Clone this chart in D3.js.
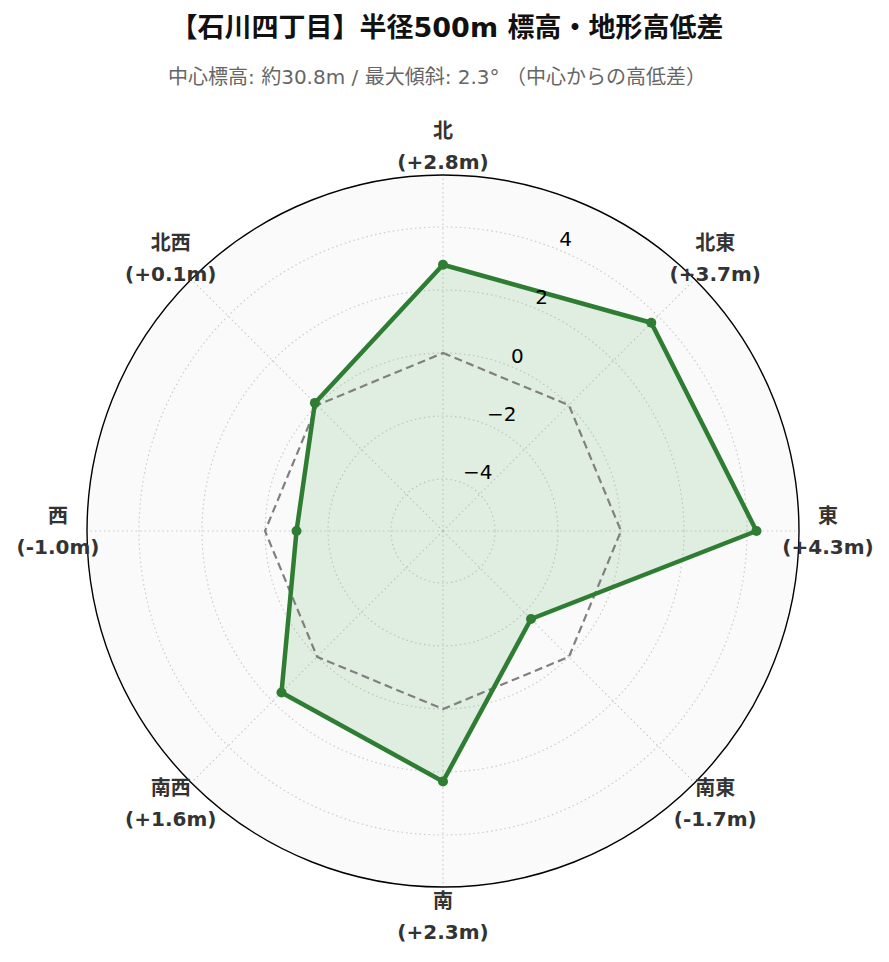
<!DOCTYPE html>
<html><head><meta charset="utf-8">
<script src="https://cdn.jsdelivr.net/npm/d3@7"></script>
<style>
body{margin:0;background:#fff;}
svg{display:block;}
</style></head>
<body>
<svg id="chart" width="889" height="962"></svg>
<script>
const title = "【石川四丁目】半径500m 標高・地形高低差";
const subtitle = "中心標高: 約30.8m / 最大傾斜: 2.3° （中心からの高低差）";
const directions = ["北", "北東", "東", "南東", "南", "南西", "西", "北西"];
const diffs = [2.8, 3.7, 4.3, -1.7, 2.3, 1.6, -1.0, 0.1];
const diffLabels = ["(+2.8m)", "(+3.7m)", "(+4.3m)", "(-1.7m)", "(+2.3m)", "(+1.6m)", "(-1.0m)", "(+0.1m)"];
const radialTicks = [-4, -2, 0, 2, 4];
const radialDomain = [-5.65, 5.65];

const svg = d3.select("#chart");
const cx = 443, cy = 531, R = 356;
const g = svg.append("g").attr("transform", `translate(${cx},${cy})`);
const LATIN = "'DejaVu Sans', 'Noto Sans CJK JP', sans-serif";

const r = d3.scaleLinear().domain(radialDomain).range([0, R]);
const angle = d3.scaleBand().domain(directions).range([0, 2 * Math.PI]).align(0).paddingInner(0).paddingOuter(0);
const ang = d => angle(d);
const pt = (a, rad) => [rad * Math.sin(a), -rad * Math.cos(a)];

// background
g.append("circle").attr("r", R).attr("fill", "#fafafa");

// grid circles
g.selectAll(".gc").data(radialTicks).join("circle")
  .attr("r", d => r(d)).attr("fill", "none")
  .attr("stroke", "#cccccc").attr("stroke-width", 1.2).attr("stroke-dasharray", "1.5,3");
// spokes
g.selectAll(".sp").data(directions).join("line")
  .attr("x1", 0).attr("y1", 0)
  .attr("x2", d => pt(ang(d), R)[0]).attr("y2", d => pt(ang(d), R)[1])
  .attr("stroke", "#cccccc").attr("stroke-width", 1.2).attr("stroke-dasharray", "1.5,3");

const radial = d3.lineRadial().angle((d, i) => ang(directions[i])).radius(d => r(d)).curve(d3.curveLinearClosed);

// fill
g.append("path").datum(diffs).attr("d", radial).attr("fill", "#4caf50").attr("fill-opacity", 0.15).attr("stroke", "none");
// zero line
g.append("path").datum(directions.map(() => 0)).attr("d", radial)
  .attr("fill", "none").attr("stroke", "#808080").attr("stroke-width", 2.2).attr("stroke-dasharray", "8,4.5");
// data line
g.append("path").datum(diffs).attr("d", radial)
  .attr("fill", "none").attr("stroke", "#2e7d32").attr("stroke-width", 4.5).attr("stroke-linejoin", "round");
// markers
g.selectAll(".mk").data(diffs).join("circle")
  .attr("cx", (d, i) => pt(ang(directions[i]), r(d))[0])
  .attr("cy", (d, i) => pt(ang(directions[i]), r(d))[1])
  .attr("r", 5).attr("fill", "#2e7d32");

// outer circle
g.append("circle").attr("r", R).attr("fill", "none").attr("stroke", "#000").attr("stroke-width", 1.4);

// radial tick labels at 22.5°
const ta = Math.PI / 8;
g.selectAll(".tl").data(radialTicks).join("text")
  .attr("x", d => pt(ta, r(d))[0])
  .attr("y", d => pt(ta, r(d))[1] - 4)
  .attr("text-anchor", "start")
  .attr("font-family", LATIN).attr("font-size", 20).attr("fill", "#000")
  .text(d => d < 0 ? "\u2212" + Math.abs(d) : String(d));

// direction labels
const LR = 385;
const lab = g.selectAll(".dl").data(directions).join("text")
  .attr("text-anchor", "middle")
  .attr("font-family", LATIN).attr("font-weight", "bold").attr("font-size", 20).attr("fill", "#333");
lab.each(function(d, i) {
  const [x, y] = pt(ang(d), LR);
  const t = d3.select(this);
  t.append("tspan").attr("x", x).attr("y", y - 15.5).attr("dy", "0.36em").text(d);
  t.append("tspan").attr("x", x).attr("y", y + 15.5).attr("dy", "0.36em").text(diffLabels[i]);
});

// titles
svg.append("text").attr("x", 447).attr("y", 27).attr("dy", "0.36em").attr("text-anchor", "middle")
  .attr("font-family", LATIN).attr("font-weight", "bold").attr("font-size", 27).attr("fill", "#111")
  .text(title);
svg.append("text").attr("x", 437).attr("y", 77).attr("dy", "0.36em").attr("text-anchor", "middle")
  .attr("font-family", LATIN).attr("font-size", 20).attr("fill", "#666")
  .text(subtitle);
</script>
</body></html>
